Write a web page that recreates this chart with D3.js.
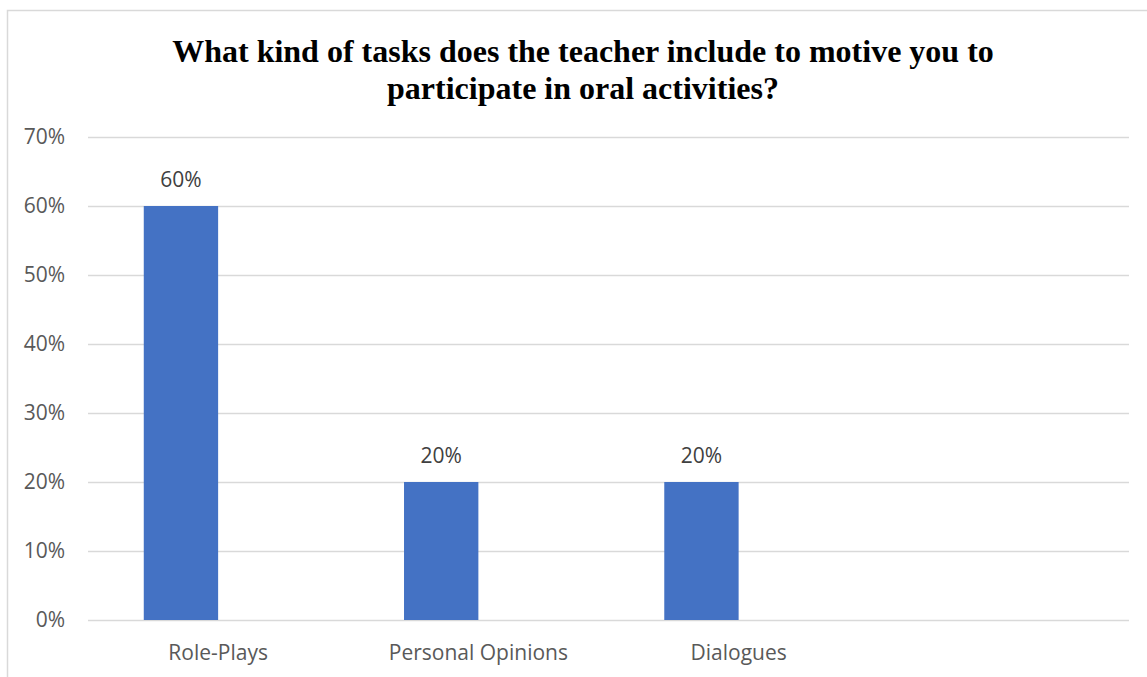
<!DOCTYPE html>
<html><head><meta charset="utf-8">
<script src="https://cdn.jsdelivr.net/npm/d3@7"></script>
<style>body{margin:0;background:#fff}svg{display:block}</style>
</head><body><svg id="c" width="1147" height="677"></svg>
<script>
const categories = ["Role-Plays", "Personal Opinions", "Dialogues", ""];
const seriesNames = ["Series1", "Series2"];
const series1 = [0.60, 0.20, 0.20, null];
const series2 = [null, null, null, null];
const yTicks = [0, 0.1, 0.2, 0.3, 0.4, 0.5, 0.6, 0.7];
const titleLines = ["What kind of tasks does the teacher include to motive you to", "participate in oral activities?"];

const svg = d3.select("#c");
const W = 1147, H = 677;
const m = {left: 88, right: 1129, top: 137, bottom: 620};
const FONT = "'Open Sans', sans-serif";

svg.append("path").attr("d", `M7.5,${H} L7.5,10.5 L${W},10.5`).attr("fill","none").attr("stroke","#d9d9d9").attr("stroke-width",1.5);

const x0 = d3.scaleBand().domain(categories).range([m.left, m.right]).paddingInner(0).paddingOuter(0);
const x1 = d3.scaleBand().domain(seriesNames).range([0, x0.bandwidth()]).paddingInner(0).paddingOuter(0.75);
const y = d3.scaleLinear().domain([0, 0.7]).range([m.bottom, m.top]);

const yAxis = d3.axisLeft(y).tickValues(yTicks).tickSize(-(m.right - m.left)).tickFormat(d3.format(".0%")).tickPadding(23);
const gy = svg.append("g").attr("transform", `translate(${m.left},0)`).call(yAxis);
gy.select(".domain").remove();
gy.selectAll(".tick line").attr("stroke", "#d9d9d9").attr("stroke-width", 1.5);
gy.selectAll(".tick text").attr("fill", "#595959").style("font-family", FONT).style("font-size", "21px");

const xAxis = d3.axisBottom(x0).tickSize(0).tickPadding(25);
const gx = svg.append("g").attr("transform", `translate(0,${m.bottom})`).call(xAxis);
gx.select(".domain").remove();
gx.selectAll(".tick text").attr("fill", "#595959").style("font-family", FONT).style("font-size", "21px");

const data = categories.map((c, i) => ({cat: c, vals: [series1[i], series2[i]]}));
const g = svg.append("g");
data.forEach(d => {
  d.vals.forEach((v, j) => {
    if (v == null) return;
    const bx = x0(d.cat) + x1(seriesNames[j]);
    g.append("rect").attr("x", bx).attr("y", y(v)).attr("width", x1.bandwidth()).attr("height", y(0) - y(v)).attr("fill", "#4472c4");
    g.append("text").attr("x", bx + x1.bandwidth() / 2).attr("y", y(v) - 19).attr("text-anchor", "middle")
      .attr("fill", "#404040").style("font-family", FONT).style("font-size", "21px")
      .text(d3.format(".0%")(v));
  });
});

svg.append("text").attr("x", 583).attr("y", 62).attr("text-anchor","middle")
  .style("font-family","'Liberation Serif', 'Times New Roman', serif").style("font-weight","bold").style("font-size","32px").attr("fill","#000")
  .selectAll("tspan").data(titleLines).join("tspan").attr("x", 583).attr("dy", (d,i)=> i ? 37 : 0).text(d=>d);
</script></body></html>
